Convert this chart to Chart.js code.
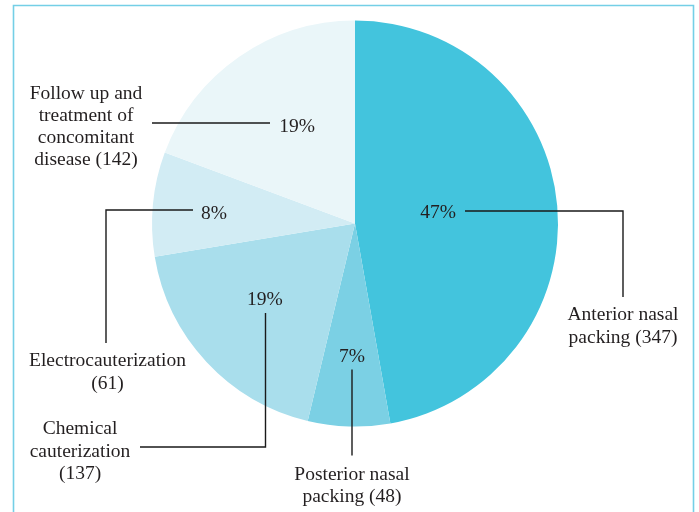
<!DOCTYPE html>
<html>
<head>
<meta charset="utf-8">
<script src="https://cdn.jsdelivr.net/npm/chart.js@4"></script>
<style>
  html, body { margin: 0; padding: 0; background: #ffffff; }
  #wrap { width: 699px; height: 512px; position: relative; }
</style>
</head>
<body>
<div id="wrap"><canvas id="c" width="699" height="512"></canvas></div>
<script>
// ---- data ----
const categories = ['Anterior nasal packing', 'Posterior nasal packing', 'Chemical cauterization', 'Electrocauterization', 'Follow up and treatment of concomitant disease'];
const counts = [347, 48, 137, 61, 142];
const labelLines = [
  ['Anterior nasal', 'packing (347)'],
  ['Posterior nasal', 'packing (48)'],
  ['Chemical', 'cauterization', '(137)'],
  ['Electrocauterization', '(61)'],
  ['Follow up and', 'treatment of', 'concomitant', 'disease (142)']
];

// ---- styles / layout (not data) ----
const sliceColors = ['#43C4DD', '#7BD0E4', '#A9DEEC', '#D2ECF4', '#EAF6F9'];
const pctPlacement = [ // radius in px from centre, angular nudge in degrees
  { r: 84, nudge: -3.6 },
  { r: 131.5, nudge: -0.4 },
  { r: 116.8, nudge: 3.4 },
  { r: 141.5, nudge: -0.8 },
  { r: 114.3, nudge: 4.3 }
];
const leaders = [ // offsets from pie centre
  [[110, -12.5], [268, -12.5], [268, 73.5]],
  [[-3, 146], [-3, 232]],
  [[-89.5, 89.5], [-89.5, 223.5], [-215, 223.5]],
  [[-162, -13.5], [-249, -13.5], [-249, 119.5]],
  [[-85, -100.5], [-203, -100.5]]
];
const labelAnchors = [ // first-line centre offset from pie centre, line height
  { dx: 268, dy: 89.5, lh: 22.5 },
  { dx: -3, dy: 249.5, lh: 22 },
  { dx: -275, dy: 203.5, lh: 22.5 },
  { dx: -247.5, dy: 135.5, lh: 22.5 },
  { dx: -269, dy: -131.5, lh: 22 }
];
const FONT = '19.5px "Liberation Serif", "DejaVu Serif", serif';
const TEXT = '#231f20';
const TEXT_SHIFT = 2; // visual centring tweak for the serif face

const total = counts.reduce((a, b) => a + b, 0);
const pctText = counts.map(v => Math.round(v / total * 100) + '%');

const framePlugin = {
  id: 'frame',
  beforeDraw(chart) {
    const ctx = chart.ctx;
    ctx.save();
    ctx.strokeStyle = '#74CFE6';
    ctx.lineWidth = 1.6;
    ctx.beginPath();
    ctx.moveTo(13.5, 520);
    ctx.lineTo(13.5, 5.5);
    ctx.lineTo(693.5, 5.5);
    ctx.lineTo(693.5, 520);
    ctx.stroke();
    ctx.restore();
  }
};

const labelPlugin = {
  id: 'pieLabels',
  afterDatasetsDraw(chart) {
    const ctx = chart.ctx;
    const meta = chart.getDatasetMeta(0);
    ctx.save();
    ctx.font = FONT;
    ctx.fillStyle = TEXT;
    ctx.strokeStyle = '#1a1a1a';
    ctx.lineWidth = 1.4;
    ctx.textAlign = 'center';
    ctx.textBaseline = 'middle';
    meta.data.forEach((arc, i) => {
      const cx = arc.x, cy = arc.y;
      const mid = (arc.startAngle + arc.endAngle) / 2 + pctPlacement[i].nudge * Math.PI / 180;
      const px = cx + Math.cos(mid) * pctPlacement[i].r;
      const py = cy + Math.sin(mid) * pctPlacement[i].r;
      ctx.fillText(pctText[i], px, py + TEXT_SHIFT);
      const pts = leaders[i];
      ctx.beginPath();
      pts.forEach((p, k) => {
        const x = cx + p[0], y = cy + p[1];
        if (k === 0) ctx.moveTo(x, y); else ctx.lineTo(x, y);
      });
      ctx.stroke();
      const a = labelAnchors[i];
      labelLines[i].forEach((t, k) => {
        ctx.fillText(t, cx + a.dx, cy + a.dy + k * a.lh + TEXT_SHIFT);
      });
    });
    ctx.restore();
  }
};

new Chart(document.getElementById('c'), {
  type: 'pie',
  data: {
    labels: categories,
    datasets: [{
      data: counts,
      backgroundColor: sliceColors,
      borderWidth: 0
    }]
  },
  options: {
    responsive: false,
    animation: false,
    layout: { padding: { left: 152, right: 141, top: 20, bottom: 85 } },
    plugins: { legend: { display: false }, tooltip: { enabled: false } }
  },
  plugins: [framePlugin, labelPlugin]
});
</script>
</body>
</html>
